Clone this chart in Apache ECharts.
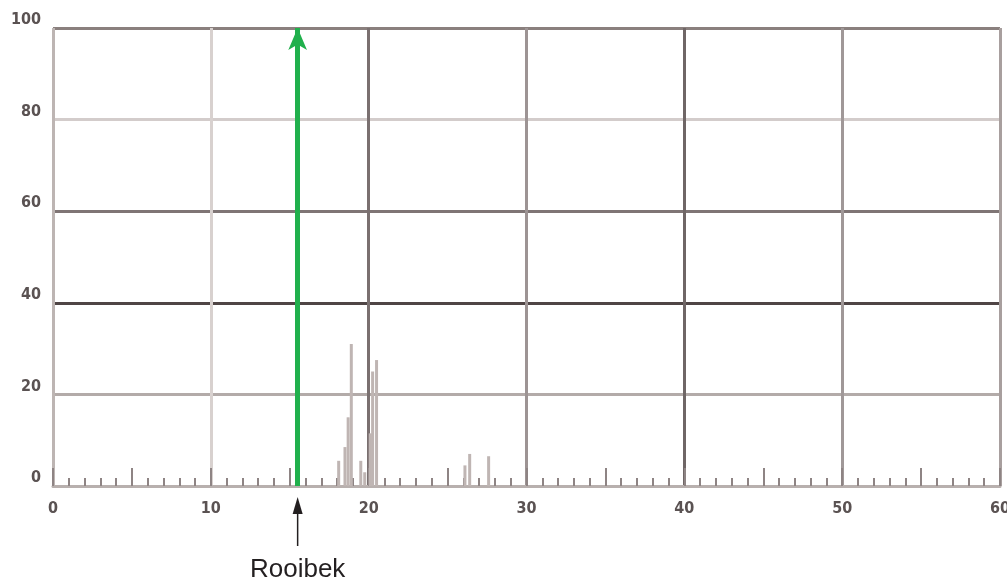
<!DOCTYPE html>
<html lang="en">
<head>
    <meta charset="UTF-8">
    <title>Rooibek</title>
    <script src="https://cdn.jsdelivr.net/npm/echarts@6/dist/echarts.min.js"></script>
    <style>
        html, body {
            margin: 0;
            height: 100%;
            background: #fff;
        }
    </style>
</head>
<body>
<div id="main" style="width: 1007px;height: 583px"></div>
</body>
</html>
<script>
    // bar positions (x) and heights (y)
    var barX = [18.1, 18.5, 18.7, 18.9, 19.5, 19.75, 20.1, 20.25, 20.5, 26.1, 26.4, 27.6];
    var barY = [5.5, 8.5, 15, 31, 5.5, 3, 11.5, 25, 27.5, 4.5, 7, 6.5];
    var xTicks = [0, 10, 20, 30, 40, 50, 60];
    var yTicks = [0, 20, 40, 60, 80, 100];
    var markerX = 15.5;
    var markerName = 'Rooibek';

    // grid line colours, one for each tick
    var xLineColors = ['#bdb5b3', '#d8d1cf', '#7a7070', '#9d9494', '#6f6666', '#a09898', '#a89f9e'];
    var yLineColors = ['#bdb5b3', '#b3aba9', '#4f4545', '#7f7575', '#d3cccb', '#8a807e'];

    var labelFont = {
        fontFamily: 'DejaVu Sans Condensed, sans-serif',
        fontWeight: 'bold',
        fontSize: 16,
        color: '#5a5252'
    };

    var myChart = echarts.init(document.getElementById('main'));

    var option = {
        animation: false,
        grid: {left: 53, right: 7, top: 28, bottom: 97, outerBoundsMode: 'none', containLabel: false},
        xAxis: [{
            type: 'value',
            min: xTicks[0],
            max: xTicks[xTicks.length - 1],
            interval: 10,
            axisLine: {show: true, lineStyle: {color: '#b8b0ae', width: 3}},
            axisTick: {show: false},
            axisLabel: Object.assign({margin: 15}, labelFont),
            splitLine: {show: true, lineStyle: {color: xLineColors, width: 3}}
        }, {
            type: 'value',
            position: 'bottom',
            min: 0,
            max: 60,
            interval: 5,
            axisLine: {show: false},
            axisLabel: {show: false},
            splitLine: {show: false},
            axisTick: {show: true, inside: true, length: 18, lineStyle: {color: '#8e8484', width: 2}},
            minorTick: {show: true, splitNumber: 5, length: 8, lineStyle: {color: '#8e8484', width: 2}}
        }],
        yAxis: {
            type: 'value',
            min: yTicks[0],
            max: yTicks[yTicks.length - 1],
            interval: 20,
            axisLine: {show: false},
            axisTick: {show: false},
            axisLabel: Object.assign({margin: 12, verticalAlign: 'bottom'}, labelFont),
            splitLine: {show: true, lineStyle: {color: yLineColors, width: 3}}
        },
        series: [{
            type: 'bar',
            xAxisIndex: 0,
            barWidth: 3,
            itemStyle: {color: '#bfb5b3'},
            data: barX.map(function (x, i) {
                return [x, barY[i]];
            }),
            markLine: {
                silent: true,
                symbol: ['none', 'arrow'],
                symbolSize: [14, 22],
                label: {show: false},
                lineStyle: {color: '#20b04c', width: 5, type: 'solid'},
                data: [[{coord: [markerX, 0]}, {coord: [markerX, 100]}]]
            }
        }]
    };
    myChart.setOption(option);

    // annotation arrow and name under the axis
    var px = myChart.convertToPixel({xAxisIndex: 0}, markerX);
    myChart.setOption({
        graphic: [{
            type: 'polygon',
            shape: {points: [[px, 497], [px - 5, 514], [px + 5, 514]]},
            style: {fill: '#231f20'}
        }, {
            type: 'line',
            shape: {x1: px, y1: 510, x2: px, y2: 546},
            style: {stroke: '#231f20', lineWidth: 1.5}
        }, {
            type: 'text',
            x: px,
            y: 570,
            style: {
                text: markerName,
                x: 0,
                y: 0,
                align: 'center',
                verticalAlign: 'middle',
                fontFamily: 'Liberation Sans, Arial, sans-serif',
                fontSize: 26,
                fill: '#231f20'
            }
        }]
    });
</script>
